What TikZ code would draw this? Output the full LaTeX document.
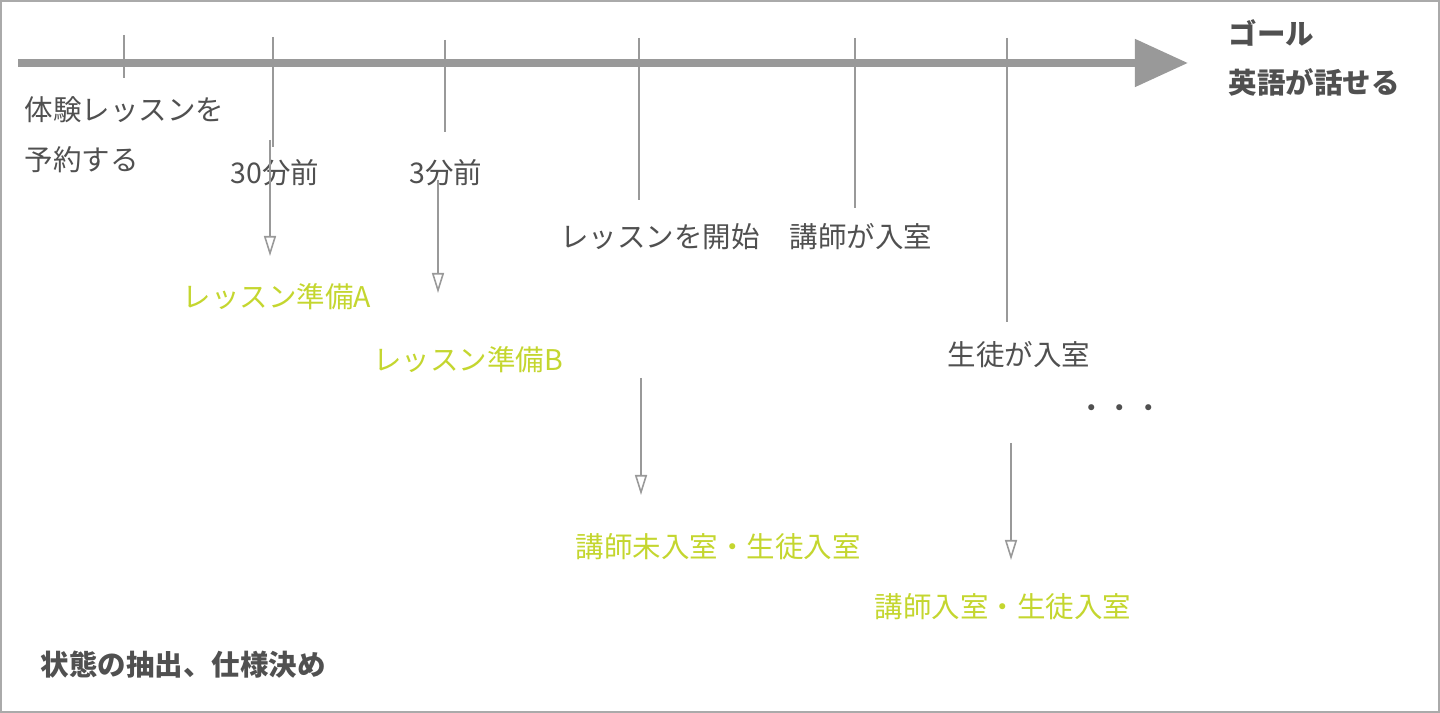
\documentclass[tikz,border=0pt]{standalone}
\usepackage{fontspec}
\setmainfont{Noto Sans CJK JP}
\usetikzlibrary{arrows.meta}
\definecolor{axisgray}{RGB}{153,153,153}
\definecolor{framegray}{RGB}{170,170,170}
\definecolor{textgray}{RGB}{80,80,80}
\definecolor{stategreen}{RGB}{196,214,47}

\begin{document}
\begin{tikzpicture}[x=0.01cm,y=-0.01cm,
  lbl/.style={inner sep=0pt,text=textgray,font=\fontsize{8.1pt}{10pt}\selectfont},
  state/.style={lbl,text=stategreen},
  goal/.style={lbl,font=\fontsize{8.1pt}{10pt}\selectfont\bfseries},
  tickline/.style={draw=axisgray,line width=0.45pt},
  down/.style={draw=axisgray,line width=0.45pt,-{Triangle[open,length=0.2cm,width=0.12cm]}}
]
\useasboundingbox (0,0) rectangle (1440,713);
\draw[framegray,line width=0.6pt] (1,1) rectangle (1439,712);

% time axis
\coordinate (tstart) at (18,63);
\coordinate (tend)   at (1188,63);
\draw[axisgray,line width=0.08cm,-{Triangle[length=0.53cm,width=0.46cm]}] (tstart) -- (tend);

% ticks on the axis
\draw[tickline] (124,35) -- (124,78);
\draw[tickline] (273,37) -- (273,147);
\draw[tickline] (445,40) -- (445,132);
\draw[tickline] (639,38) -- (639,200);
\draw[tickline] (855,38) -- (855,208);
\draw[tickline] (1007,38) -- (1007,322);

% events
\node[lbl,anchor=west] (book1) at (24,110) {体験レッスンを};
\node[lbl,anchor=west] (book2) at (24,160) {予約する};
\node[lbl] (min30)  at (275,173) {30分前};
\node[lbl] (min3)   at (446,173) {3分前};
\node[lbl] (start)  at (660,237) {レッスンを開始};
\node[lbl] (tin)    at (861,237) {講師が入室};
\node[lbl] (sin)    at (1019,355) {生徒が入室};
\node[lbl] (more)   at (1120,412) {・・・};

% goal
\node[goal,anchor=west] (goal)    at (1228,33) {ゴール};
\node[goal,anchor=west] (english) at (1228,82) {英語が話せる};

% states
\node[state] (prepA) at (277,297) {レッスン準備A};
\node[state] (prepB) at (468,360) {レッスン準備B};
\node[state,anchor=west] (waitT) at (575,547) {講師未入室・生徒入室};
\node[state,anchor=west] (both)  at (874,607) {講師入室・生徒入室};

\coordinate (a30s) at (270,140);  \coordinate (a30e) at (270,256);
\coordinate (a3s)  at (438,180);  \coordinate (a3e)  at (438,293);
\coordinate (ass)  at (641,378);  \coordinate (ase)  at (641,495);
\coordinate (ais)  at (1011,443); \coordinate (aie)  at (1011,560);
\draw[down] (a30s) -- (a30e);
\draw[down] (a3s) -- (a3e);
\draw[down] (ass) -- (ase);
\draw[down] (ais) -- (aie);

\node[goal,anchor=west] (spec) at (40,665) {状態の抽出、仕様決め};
\end{tikzpicture}
\end{document}
